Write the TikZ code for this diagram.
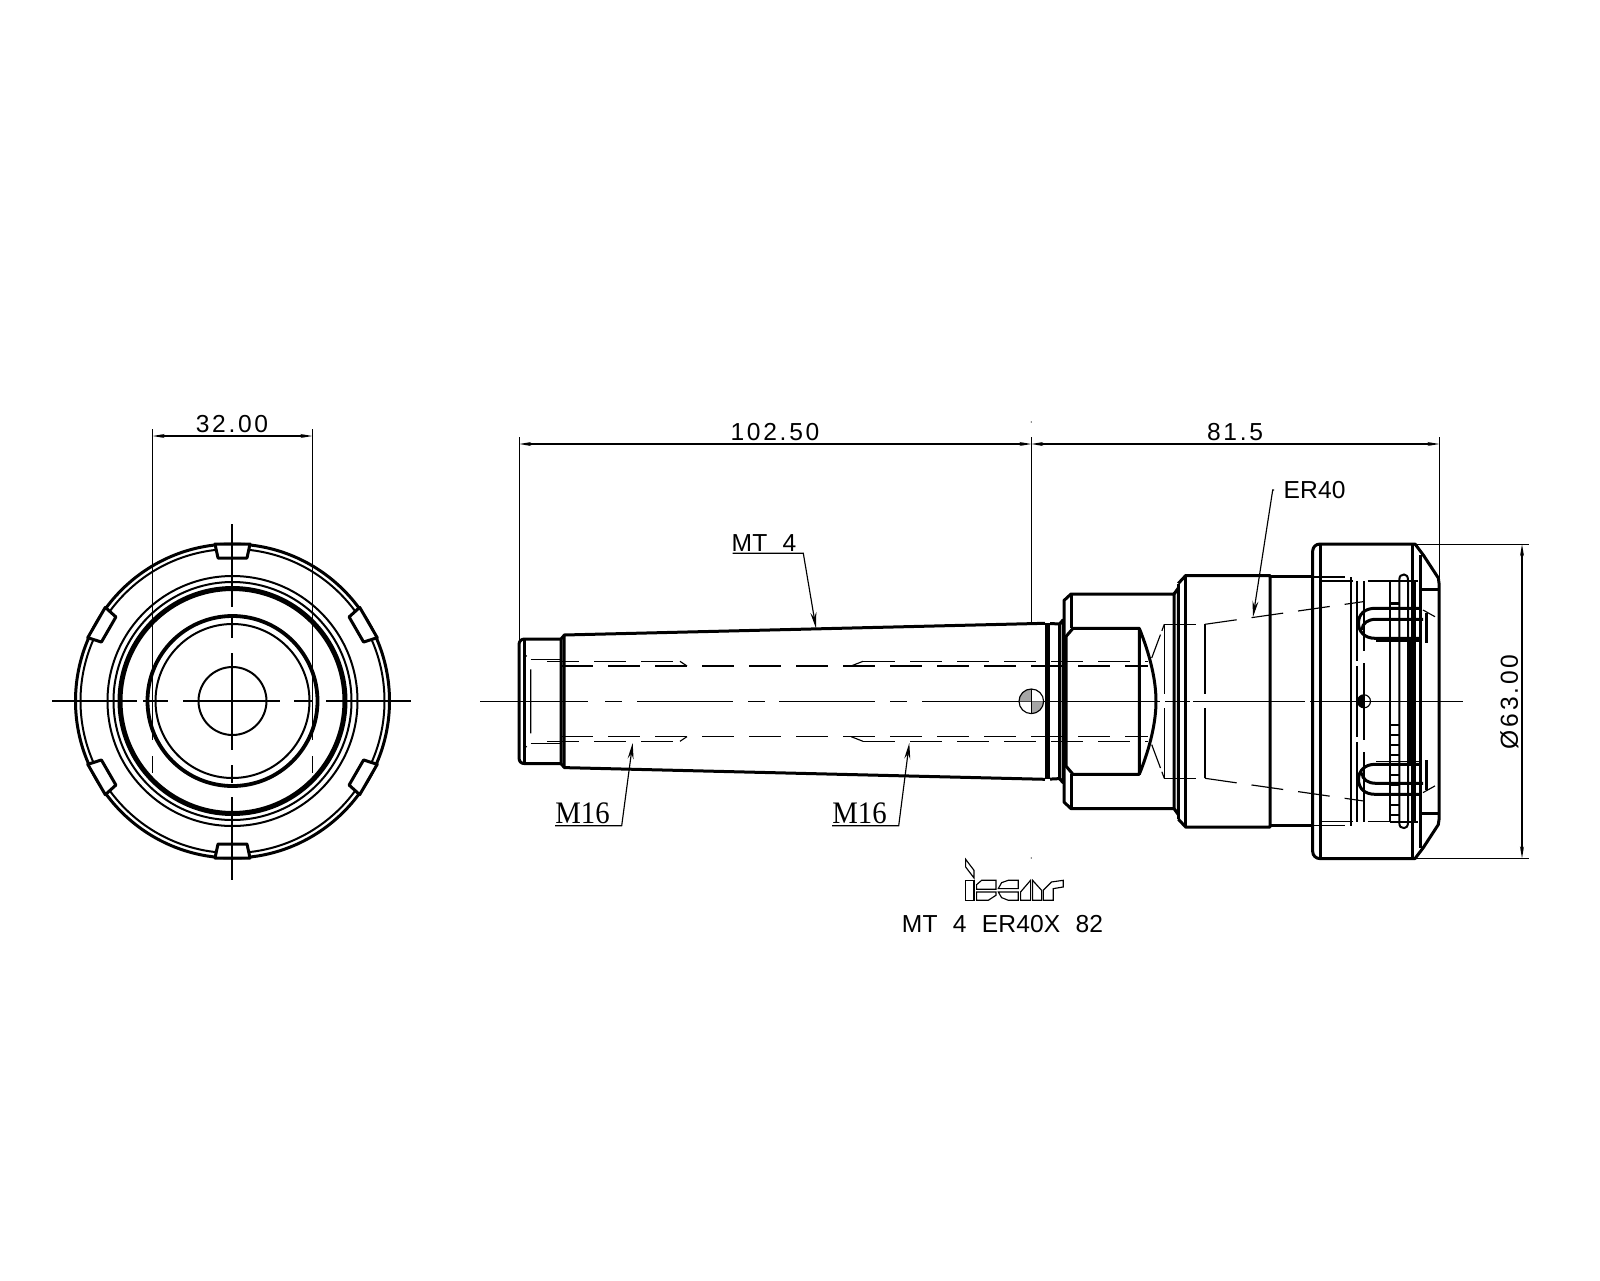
\documentclass[tikz,border=0pt]{standalone}
\usepackage{fontspec}
\usetikzlibrary{arrows.meta}
\newfontfamily\dimfamily[LetterSpace=11]{Liberation Sans}
\newfontfamily\namefamily[LetterSpace=0.5,WordSpace=2.2]{Liberation Sans}
\newfontfamily\threadfamily[FakeStretch=0.92]{Liberation Serif}
\tikzset{
  outline/.style={line width=0.3mm, line join=round},
  heavy/.style={line width=0.5mm},
  medline/.style={line width=0.2mm},
  thinline/.style={line width=0.115mm},
  hidden/.style={thinline, dash pattern=on 3.2mm off 1.5mm},
  longhidden/.style={thinline, dash pattern=on 7mm off 1.2mm},
  dimline/.style={thinline, {Stealth[length=1.2mm,width=0.4mm]}-{Stealth[length=1.2mm,width=0.4mm]}},
  leader/.style={thinline, -{Stealth[length=1.6mm,width=0.6mm]}},
  dimlabel/.style={inner sep=0pt, font=\dimfamily\fontsize{7}{8}\selectfont},
  namelabel/.style={inner sep=0pt, font=\namefamily\fontsize{7}{8}\selectfont},
  threadlabel/.style={inner sep=0pt, font=\threadfamily\fontsize{8.9}{10}\selectfont},
  asdrawn/.style={},
  mirrored/.style={cm={1,0,0,-1,(0,1402.6)}}
}
\begin{document}
\begin{tikzpicture}[x=0.1mm,y=-0.1mm]
  \useasboundingbox (0,0) rectangle (1600,1280);

  % end view
  \draw[outline] (232.5,701) circle (157);
  \draw[medline] (232.5,701) circle (152);
  \draw[medline] (232.5,701) circle (125);
  \draw[medline] (232.5,701) circle (119);
  \draw[line width=0.5mm] (232.5,701) circle (112.5);
  \draw[line width=0.38mm] (232.5,701) circle (85);
  \draw[medline] (232.5,701) circle (77);
  \draw[medline] (232.5,701) circle (34);
  \foreach \a in {0,60,120,180,240,300} {
    \begin{scope}[shift={(232.5,701)},rotate=\a]
      \draw[outline,fill=white] (-17.5,-157) -- (17.5,-157) -- (14.5,-143) -- (-14.5,-143) -- cycle;
    \end{scope}
  }
  % center lines of the end view
  \foreach \p/\q in {52/137,143/168,183/280,294/312,326/411}
    \draw[thinline] (\p,701) -- (\q,701);
  \foreach \p/\q in {524/607,617/638,653/750,765/783,797/880}
    \draw[thinline] (232,\p) -- (232,\q);

  % side view, upper half and its mirror image
  \foreach \half in {asdrawn,mirrored} {
    \begin{scope}[\half]
      % shank
      \draw[outline] (519,701.3) -- (519,645) .. controls (519,641) and (521,639) .. (525,639) -- (561,639);
      \draw[outline] (524,639) -- (524,701.3);
      \draw[outline] (561,701.3) -- (561,639) -- (564,635.5);
      \draw[outline] (564,701.3) -- (564,635) -- (1045,623.3);
      \draw[outline] (1050,623.5) -- (1059.5,624) -- (1063,620) -- (1063,701.3);
      \draw[outline] (1059.5,624) -- (1059.5,701.3);
      % hexagon part
      \draw[outline] (1064,701.3) -- (1064,600.5) -- (1071,594) -- (1174,594) -- (1174,701.3);
      \draw[outline] (1071.5,594) -- (1071.5,628.3);
      \draw[outline] (1066,701.3) -- (1066,636.5) -- (1073,628.3) -- (1139.3,628.3) -- (1139.3,701.3);
      \draw[outline] (1139.3,628.3) .. controls (1150,655) and (1156,680) .. (1156,701.3);
      % collar
      \draw[outline] (1174,594) -- (1178.3,588) -- (1178.3,701.3);
      \draw[outline] (1178.3,583.5) -- (1185.7,575.5) -- (1270,575.5) -- (1270,701.3);
      \draw[outline] (1178.3,583.5) -- (1178.3,590);
      \draw[outline] (1185.7,575.5) -- (1185.7,701.3);
      \draw[outline] (1270,576.7) -- (1313,576.7);
      % nut
      \draw[outline] (1312.7,701.3) -- (1312.7,551) .. controls (1312.7,547) and (1316,544) .. (1320,544) -- (1415,544) -- (1423.3,555) -- (1438.3,578) -- (1439,583) -- (1439,701.3);
      \draw[line width=0.35mm] (1320.7,544) -- (1320.7,701.3);
      \draw[outline] (1412.7,544) -- (1412.7,701.3);
      \draw[line width=0.35mm] (1420.5,555) -- (1420.5,701.3);
      \draw[outline] (1421.7,589) -- (1438,589);
      % hidden lines of the shank
      \draw[hidden] (530.7,701.3) -- (530.7,659.3) -- (525,655);
      \draw[hidden] (530.7,659.3) -- (561,659.3);
      \draw[hidden] (547,661.3) -- (680,661.3);
      \draw[thinline] (680,661.3) -- (687,666);
      \draw[hidden] (561,666) -- (1148,666);
      \draw[thinline] (851,666) -- (863,661.3);
      \draw[hidden] (863,661.3) -- (1148,661.3);
      % hidden lines of the head
      \draw[thinline,dash pattern=on 2.5mm off 0.4mm] (1151.7,658) -- (1164.3,624.3);
      \draw[hidden] (1164.3,624.3) -- (1205,624.3);
      \draw[longhidden] (1164.3,624.3) -- (1164.3,701.3);
      \draw[longhidden] (1205,624.3) -- (1205,701.3);
      \draw[thinline,dash pattern=on 3.2mm off 1.5mm] (1205,624.3) -- (1363,601.7);
      % inside of the nut
      \draw[hidden] (1313,577) -- (1351,577) -- (1357,581);
      \draw[hidden] (1320.7,581) -- (1390,581);
      \draw[thinline] (1351,577) -- (1351,701.3);
      \draw[medline,dash pattern=on 8mm off 0.5mm] (1357.3,581) -- (1357.3,701.3);
      \draw[longhidden] (1364,581) -- (1364,701.3);
      \draw[medline] (1390,581) -- (1390,701.3);
      \draw[medline] (1390,581) -- (1418,581);
      \draw[medline] (1399.3,701.3) -- (1399.3,580) .. controls (1399.3,576) and (1401,574.5) .. (1404,574.5) .. controls (1406,574.5) and (1408,576) .. (1408,580) -- (1408,701.3);
      \draw[medline] (1415,581) -- (1415,701.3);
      \draw[line width=0.45mm] (1410.7,640) -- (1410.7,701.3);
      \draw[thinline] (1423,610) -- (1435,616.7);
      % slot of the nut
      \draw[outline] (1420,608.3) -- (1375,608.3) .. controls (1365,608.3) and (1358.5,614) .. (1358.5,623) .. controls (1358.5,632) and (1365,638.3) .. (1375,638.3) -- (1420,638.3);
      \draw[outline] (1423,619.3) -- (1376,619.3) .. controls (1368,619.3) and (1362,623) .. (1362,630);
      \draw[thinline] (1376,641) -- (1420,641);
      \draw[outline] (1426,613) -- (1426,643);
    \end{scope}
  }
  \draw[heavy] (1047.5,623.3) -- (1047.5,779.3);
  \draw[outline] (1390,603) -- (1400,603);
  \foreach \y in {725,735,745,755,765,775,785,795,805,815}
    \draw[thinline] (1390,\y) -- (1400,\y);

  % center line of the side view
  \foreach \p/\q in {480/588,605/622,637/733,748/765,779/875,890/907,922/1160,1165/1190,1193/1305,1310/1463}
    \draw[thinline] (\p,701.3) -- (\q,701.3);
  % gravity mark
  \fill[gray!70] (1031.3,701.3) -- (1019,701.3) arc (180:270:12.3) -- cycle;
  \fill[gray!70] (1031.3,701.3) -- (1043.6,701.3) arc (0:90:12.3) -- cycle;
  \draw[thinline] (1031.3,701.3) circle (12.3);
  \draw[thinline] (1031.3,689) -- (1031.3,713.6);
  \draw[thinline] (1364,701.3) circle (6.5);
  \fill (1364,694.8) arc (270:90:6.5) -- cycle;

  % dimensions
  \coordinate (boreleft) at (152.7,436);
  \coordinate (boreright) at (312.3,436);
  \coordinate (shankend) at (519.3,444);
  \coordinate (gaugeplane) at (1031.3,444);
  \coordinate (noseend) at (1439.3,444);
  \coordinate (nuttop) at (1522,544.3);
  \coordinate (nutbottom) at (1522,858.3);
  \foreach \p/\q in {429/740,756/773} {
    \draw[thinline] (152.7,\p) -- (152.7,\q);
    \draw[thinline] (312.3,\p) -- (312.3,\q);
  }
  \draw[dimline] (boreleft) -- (boreright);
  \draw[thinline] (519.3,437) -- (519.3,640);
  \draw[thinline] (1031.3,437) -- (1031.3,623);
  \draw[thinline] (1439.3,437) -- (1439.3,583);
  \draw[dimline] (shankend) -- (gaugeplane);
  \draw[dimline] (gaugeplane) -- (noseend);
  \draw[thinline] (1415,544.3) -- (1529,544.3);
  \draw[thinline] (1415,858.3) -- (1529,858.3);
  \draw[dimline] (nuttop) -- (nutbottom);
  \fill (1031.3,422) circle (0.6);
  \fill (1031.3,858) circle (0.6);

  \node[dimlabel] (acrossflats) at (232,424) {32.00};
  \node[dimlabel] (shanklength) at (775,432.5) {102.50};
  \node[dimlabel] (headlength) at (1235,432.5) {81.5};
  \node[dimlabel,rotate=90] (nutdiameter) at (1509.3,702) {Ø63.00};

  % thread and taper labels
  \node[threadlabel] (threadleft) at (582.5,813) {M16};
  \coordinate (threadleftstart) at (555,825.7);
  \coordinate (threadleftknee) at (621.7,825.7);
  \coordinate (threadlefttip) at (632.7,743);
  \draw[leader] (threadleftstart) -- (threadleftknee) -- (threadlefttip);
  \node[threadlabel] (threadright) at (859.5,813) {M16};
  \coordinate (threadrightstart) at (832,825.7);
  \coordinate (threadrightknee) at (898.7,825.7);
  \coordinate (threadrighttip) at (909.3,743);
  \draw[leader] (threadrightstart) -- (threadrightknee) -- (threadrighttip);
  \node[namelabel,anchor=west] (taperlabel) at (731,543) {MT 4};
  \coordinate (taperstart) at (732.7,553.3);
  \coordinate (taperknee) at (803.3,553.3);
  \coordinate (tapertip) at (816,628.3);
  \draw[leader] (taperstart) -- (taperknee) -- (tapertip);
  \node[namelabel,anchor=west] (colletlabel) at (1283,490.5) {ER40};
  \coordinate (colletstart) at (1274,490);
  \coordinate (colletknee) at (1272.7,490);
  \coordinate (collettip) at (1253,617);
  \draw[leader] (colletstart) -- (colletknee) -- (collettip);

  % logo
  \begin{scope}[thinline,shift={(960,852)},x=0.0333mm,y=-0.0333mm]
    \draw (17,22) -- (42,55) -- (42,78) -- (17,45) -- cycle;
    \draw (17,85) rectangle (42,145);
    \draw (50,112) -- (50,98) -- (65,85) -- (108,85) -- (108,112) -- cycle;
    \draw (50,120) -- (108,120) -- (108,130) -- (85,145) -- (50,145) -- cycle;
    \draw (115,110) -- (125,92) -- (145,85) -- (175,85) -- (175,110) -- cycle;
    \draw (115,120) -- (175,120) -- (175,145) -- (145,145) -- (125,137) -- cycle;
    \draw (182,145) -- (182,120) -- (212,85) -- (212,145) -- cycle;
    \draw (218,85) -- (245,115) -- (245,145) -- (218,145) -- cycle;
    \draw (250,145) -- (250,115) -- (275,90) -- (310,85) -- (310,105) -- (280,110) -- (280,145) -- cycle;
  \end{scope}
  \node[namelabel] (toolname) at (1002.5,924) {MT 4 ER40X 82};
\end{tikzpicture}
\end{document}
